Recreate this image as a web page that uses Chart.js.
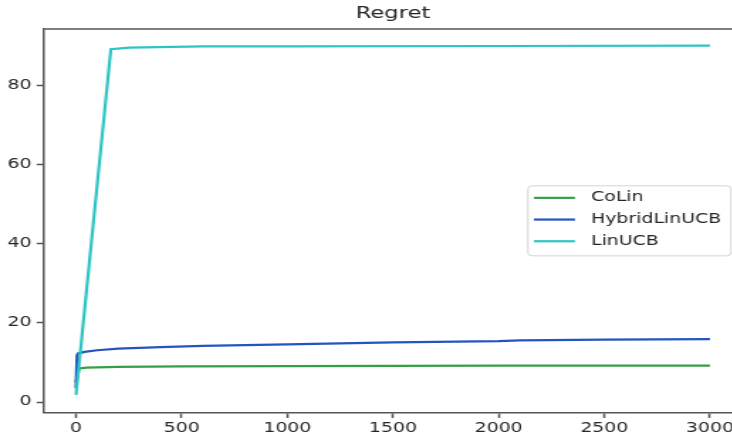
<!DOCTYPE html>
<html>
<head>
<meta charset="utf-8">
<script src="https://cdn.jsdelivr.net/npm/chart.js@4.4.1/dist/chart.umd.min.js"></script>
<style>
    html, body { margin: 0; padding: 0; overflow: hidden; background: #ffffff; }
    #regret-chart { display: block; transform: scaleX(1.42); transform-origin: 0 0; filter: blur(0.35px); }
</style>
</head>
<body>
<canvas id="regret-chart" width="540" height="439"></canvas>
<script>
// values
const colinX = [0, 15, 50, 200, 500, 1000, 2000, 3000]
const colinY = [5.0, 8.5, 8.7, 8.9, 9.0, 9.1, 9.2, 9.2]

const hybridX = [0, 5, 10, 40, 100, 200, 400, 600, 1000, 1500, 2000, 2100, 2500, 3000]
const hybridY = [3.5, 11.8, 12.3, 12.7, 13.1, 13.5, 13.9, 14.2, 14.6, 15.1, 15.4, 15.6, 15.8, 15.9]

const linucbX = [0, 165, 250, 600, 1000, 2000, 3000]
const linucbY = [1.8, 89.3, 89.7, 90.0, 90.0, 90.1, 90.2]

const seriesLabels = ['CoLin', 'HybridLinUCB', 'LinUCB']
const seriesColors = ['#34a043', '#2455bf', '#2ec4c4']

const xTicks = [0, 500, 1000, 1500, 2000, 2500, 3000]
const yTicks = [0, 20, 40, 60, 80]

const fontFamily = "'DejaVu Sans', sans-serif"
const axisColor = '#555555'
const textColor = '#262626'

function toPoints(xs, ys) {
    return xs.map((x, i) => ({x: x, y: ys[i]}))
}

// top spine, matplotlib style frame
const frameLine = {
    id: 'frameLine',
    afterDraw(chart) {
        const {ctx, chartArea} = chart
        ctx.save()
        ctx.strokeStyle = axisColor
        ctx.lineWidth = 1.5
        ctx.beginPath()
        ctx.moveTo(chartArea.left, chartArea.top)
        ctx.lineTo(chartArea.right, chartArea.top)
        ctx.stroke()
        ctx.restore()
    }
}

// legend box at center right of the plot area
const legendBox = {
    id: 'legendBox',
    afterDraw(chart) {
        const {ctx, chartArea} = chart
        const sets = chart.data.datasets
        ctx.save()
        ctx.font = '13.3px ' + fontFamily
        const textW = Math.max(...sets.map(d => ctx.measureText(d.label).width))
        const w = 4.2 + 28.9 + 11.3 + textW + 7
        const h = 70
        const right = chartArea.right - 7.5
        const left = right - w
        const midY = (chartArea.top + chartArea.bottom) / 2
        const top = midY - h / 2
        ctx.fillStyle = 'rgba(255,255,255,0.8)'
        ctx.strokeStyle = '#d4d4d4'
        ctx.lineWidth = 1
        ctx.beginPath()
        ctx.roundRect(left, top, w, h, 3)
        ctx.fill()
        ctx.stroke()
        sets.forEach((d, i) => {
            const y = top + 12 + i * 21.7
            ctx.strokeStyle = d.borderColor
            ctx.lineWidth = 2.2
            ctx.beginPath()
            ctx.moveTo(left + 4.2, y)
            ctx.lineTo(left + 4.2 + 28.9, y)
            ctx.stroke()
            ctx.fillStyle = textColor
            ctx.textBaseline = 'middle'
            ctx.textAlign = 'left'
            ctx.fillText(d.label, left + 4.2 + 28.9 + 11.3, y)
        })
        ctx.restore()
    }
}

let regretChart = new Chart(document.getElementById('regret-chart'), {
    type: 'line',
    data: {
        datasets: [
            {
                label: seriesLabels[0],
                borderColor: seriesColors[0],
                data: toPoints(colinX, colinY),
                order: 3
            },
            {
                label: seriesLabels[1],
                borderColor: seriesColors[1],
                data: toPoints(hybridX, hybridY),
                order: 2
            },
            {
                label: seriesLabels[2],
                borderColor: seriesColors[2],
                data: toPoints(linucbX, linucbY),
                order: 1
            }
        ]
    },
    options: {
        responsive: false,
        animation: false,
        devicePixelRatio: 1,
        layout: {
            padding: {
                top: 0,
                right: 17.7,
                bottom: 0,
                left: 0
            }
        },
        elements: {
            line: {
                borderWidth: 2.2,
                tension: 0,
                fill: false
            },
            point: {
                radius: 0
            }
        },
        plugins: {
            legend: {
                display: false
            },
            tooltip: {
                enabled: false
            },
            title: {
                display: true,
                fullSize: false,
                text: 'Regret',
                color: textColor,
                font: {
                    family: fontFamily,
                    size: 16,
                    weight: 'normal'
                },
                padding: {
                    top: 4,
                    bottom: 5.8
                }
            }
        },
        scales: {
            x: {
                type: 'linear',
                min: -150,
                max: 3150,
                afterFit: function(scale) {
                    scale.height = 26.3
                },
                afterBuildTicks: function(scale) {
                    scale.ticks = xTicks.map(v => ({value: v}))
                },
                border: {
                    color: axisColor,
                    width: 1.5
                },
                grid: {
                    drawOnChartArea: false,
                    tickLength: 5.3,
                    tickColor: axisColor,
                    tickWidth: 1.5
                },
                ticks: {
                    maxRotation: 0,
                    autoSkip: false,
                    padding: 3,
                    color: textColor,
                    font: {
                        family: fontFamily,
                        size: 13.3
                    },
                    callback: function(value) {
                        return String(value)
                    }
                }
            },
            y: {
                min: -2.7,
                max: 94.4,
                afterFit: function(scale) {
                    scale.width = 31.2
                },
                afterBuildTicks: function(scale) {
                    scale.ticks = yTicks.map(v => ({value: v}))
                },
                border: {
                    color: axisColor,
                    width: 1.5
                },
                grid: {
                    drawOnChartArea: false,
                    tickLength: 5.35,
                    tickColor: axisColor,
                    tickWidth: 1.5
                },
                ticks: {
                    autoSkip: false,
                    padding: 3.6,
                    color: textColor,
                    font: {
                        family: fontFamily,
                        size: 13.3
                    },
                    callback: function(value) {
                        return String(value)
                    }
                }
            }
        }
    },
    plugins: [frameLine, legendBox]
})
</script>
</body>
</html>
